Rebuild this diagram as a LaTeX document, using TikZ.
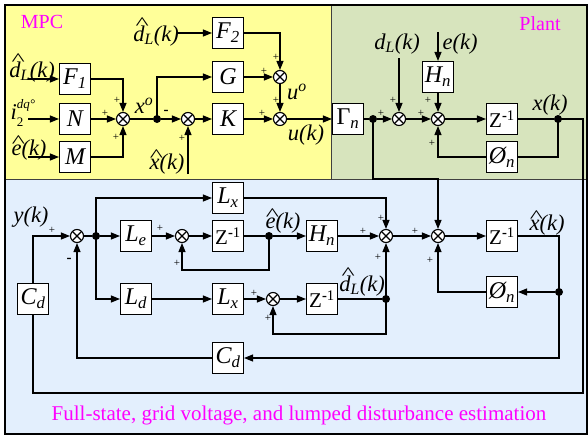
\documentclass[tikz,border=0pt]{standalone}
\usepackage{fontspec}
\setmainfont{Liberation Serif}
\usetikzlibrary{arrows.meta,calc}

\definecolor{mpcY}{RGB}{255,255,153}
\definecolor{plantG}{RGB}{215,228,189}
\definecolor{estB}{RGB}{227,239,253}
\definecolor{titleM}{RGB}{255,0,255}

% letter with a wide hat: #1 letter, #2 horizontal shift, #3 raise
\newcommand\hatl[3]{\rlap{\hspace{#2}\raisebox{#3}{\upshape\scalebox{1.25}[0.8]{\textasciicircum}}}#1}
\newcommand\dhat{\hatl{d}{0.1em}{0.55em}}
\newcommand\ehat{\hatl{e}{0.02em}{0.36em}}
\newcommand\xhat{\hatl{x}{0.02em}{0.36em}}
\newcommand\zinv{{\upshape Z\textsuperscript{\textbf{-}1}}}

\tikzset{
 blk/.style={draw, fill=white, line width=1.1pt, minimum width=31pt, minimum height=31pt, inner sep=0pt, font=\fontsize{24}{24}\selectfont\itshape},
 zblk/.style={blk, font=\fontsize{21}{21}\selectfont},
 sumn/.style={circle, draw, fill=white, line width=1.1pt, minimum size=13pt, inner sep=0pt,
   path picture={\draw[line width=1.1pt] (path picture bounding box.north west)--(path picture bounding box.south east) (path picture bounding box.north east)--(path picture bounding box.south west);}},
 dotn/.style={circle, fill=black, minimum size=8pt, inner sep=0pt},
 lab/.style={inner sep=0pt, font=\fontsize{22.5}{22.5}\selectfont\itshape},
 sg/.style={inner sep=0pt, font=\fontsize{11}{11}\selectfont},
 mn/.style={inner sep=0pt, font=\fontsize{15}{15}\selectfont\bfseries},
 ttl/.style={inner sep=0pt, text=titleM, font=\fontsize{20}{20}\selectfont},
 wire/.style={line width=1.2pt},
 arr/.style={wire, -{Triangle[length=9pt,width=7pt]}},
}

\begin{document}
\begin{tikzpicture}[x=1pt,y=-1pt]
\useasboundingbox (0,0) rectangle (588,436);
\fill[white] (0,0) rectangle (588,436);
\fill[mpcY] (5,5) rectangle (331,179);
\fill[plantG] (331,5) rectangle (587,179);
\fill[estB] (5,179) rectangle (587,434);
\draw[line width=0.8pt, black!75] (331,5) -- (331,179) (5,179) -- (587,179);
\draw[line width=1.2pt] (5,5) rectangle (587,434);

% titles
\node[ttl] (tmpc) at (42,22) {MPC};
\node[ttl] (tplant) at (540,24) {Plant};
\node[ttl, font=\fontsize{21}{21}\selectfont] (test) at (299,415) {Full-state, grid voltage, and lumped disturbance estimation};

% MPC blocks
\node[blk] (F1) at (75,79) {F\textsubscript{1}};
\node[blk] (N) at (75,119) {N};
\node[blk] (M) at (75,157) {M};
\node[sumn] (s1) at (123,119) {};
\node[dotn] (d0) at (157,119) {};
\node[sumn] (s2) at (188,119) {};
\node[blk] (F2) at (228,33) {F\textsubscript{2}};
\node[blk] (G) at (228,77) {G};
\node[blk] (K) at (228,119) {K};
\node[sumn] (s3) at (280,77) {};
\node[sumn] (s4) at (280,119) {};
\node[blk] (Gam) at (348,119) {{\upshape Γ}\textsubscript{n}};

% plant blocks
\node[dotn] (d1) at (373,119) {};
\node[sumn] (s5) at (399,119) {};
\node[sumn] (s6) at (438,119) {};
\node[blk] (Hn1) at (438,77) {H\textsubscript{n}};
\node[zblk] (Z1) at (502,119) {\zinv};
\node[blk] (P1) at (502,157) {Ø\textsubscript{n}};
\node[dotn] (xd) at (558,119) {};

% estimator blocks
\node[blk] (Cd1) at (33,299) {C\textsubscript{d}};
\node[sumn] (s10) at (77,236) {};
\node[dotn] (d2) at (96,236) {};
\node[blk] (Le) at (136,236) {L\textsubscript{e}};
\node[blk] (Ld) at (136,299) {L\textsubscript{d}};
\node[sumn] (s11) at (182,236) {};
\node[blk] (Lx1) at (228,198) {L\textsubscript{x}};
\node[zblk] (Z2) at (228,236) {\zinv};
\node[dotn] (ed) at (269,236) {};
\node[blk] (Hn2) at (322,236) {H\textsubscript{n}};
\node[sumn] (s7) at (386,236) {};
\node[sumn] (s8) at (438,236) {};
\node[zblk] (Z3) at (502,236) {\zinv};
\node[blk] (P2) at (502,292) {Ø\textsubscript{n}};
\node[dotn] (xhd) at (559,292) {};
\node[blk] (Lx2) at (228,299) {L\textsubscript{x}};
\node[sumn] (s9) at (273,299) {};
\node[zblk] (Z4) at (322,299) {\zinv};
\node[dotn] (dd) at (386,299) {};
\node[blk] (Cd2) at (228,358) {C\textsubscript{d}};

% free ends
\coordinate (inF) at (28,79);
\coordinate (inN) at (28,119);
\coordinate (inM) at (28,157);
\coordinate (inxh) at (188,174);
\coordinate (indl2) at (178,33);
\coordinate (indl) at (399,58);
\coordinate (ine) at (438,32);
\coordinate (xr) at (583,119);
\coordinate (xb) at (583,393);
\coordinate (cb) at (33,393);
\coordinate (gd) at (373,179);
\coordinate (eb) at (269,270);
\coordinate (db) at (386,334);
\coordinate (xhb) at (559,358);

% labels
\node[lab] (ldl) at (32,68) {\dhat\textsubscript{L}(k)};
\node[lab] (li2) at (17,113) {i\makebox[0pt][l]{\raisebox{0.5em}{\fontsize{13}{13}\selectfont dq°}}\raisebox{-0.3em}{\fontsize{13}{13}\selectfont\upshape 2}\hspace{0.9em}};
\node[lab] (le) at (29,148) {\ehat(k)};
\node[lab] (lxh) at (167,162) {\xhat(k)};
\node[lab] (ldl2) at (156,32) {\dhat\textsubscript{L}(k)};
\node[lab] (lx0) at (144,106) {x\textsuperscript{o}};
\node[lab] (lu0) at (297,92) {u\textsuperscript{o}};
\node[lab] (lu) at (306,135) {u(k)};
\node[lab] (ldL) at (397,44) {d\textsubscript{L}(k)};
\node[lab] (lek) at (460,44) {e(k)};
\node[lab] (lx) at (550,105) {x(k)};
\node[lab] (ly) at (31,217) {y(k)};
\node[lab] (leh) at (283,221) {\ehat(k)};
\node[lab] (ldh) at (362,282) {\dhat\textsubscript{L}(k)};
\node[lab] (lxhh) at (547,223) {\xhat(k)};

% signs
\node[sg] at (117,100) {+};
\node[sg] at (105,113) {+};
\node[sg] at (116,137) {+};
\node[mn] at (166,112) {-};
\node[sg] at (182,138) {+};
\node[sg] at (276,57) {+};
\node[sg] at (264,71) {+};
\node[sg] at (276,100) {+};
\node[sg] at (262,113) {+};
\node[sg] at (381,113) {+};
\node[sg] at (393,100) {+};
\node[sg] at (421,113) {+};
\node[sg] at (428,100) {+};
\node[sg] at (432,143) {+};
\node[sg] at (52,230) {+};
\node[mn] at (69,260) {-};
\node[sg] at (160,228) {+};
\node[sg] at (177,263) {+};
\node[sg] at (381,218) {+};
\node[sg] at (363,231) {+};
\node[sg] at (378,257) {+};
\node[sg] at (415,231) {+};
\node[sg] at (430,260) {+};
\node[sg] at (254,293) {+};
\node[sg] at (268,318) {+};

% MPC wiring
\draw[arr] (inF) -- (F1);
\draw[arr] (inN) -- (N);
\draw[arr] (inM) -- (M);
\draw[arr] (F1.east) -| (s1.north);
\draw[arr] (N) -- (s1);
\draw[arr] (M.east) -| (s1.south);
\draw[wire] (s1) -- (d0);
\draw[arr] (d0) -- (s2);
\draw[arr] (d0.center) |- (G.west);
\draw[arr] (inxh) -- (s2.south);
\draw[arr] (s2) -- (K);
\draw[arr] (indl2) -- (F2);
\draw[arr] (F2.east) -| (s3.north);
\draw[arr] (G) -- (s3);
\draw[arr] (s3) -- (s4);
\draw[arr] (K) -- (s4);
\draw[arr] (s4) -- (Gam);

% plant wiring
\draw[wire] (Gam) -- (d1);
\draw[arr] (d1) -- (s5);
\draw[arr] (indl) -- (s5.north);
\draw[arr] (ine) -- (Hn1.north);
\draw[arr] (Hn1) -- (s6);
\draw[arr] (s5) -- (s6);
\draw[arr] (s6) -- (Z1);
\draw[wire] (Z1) -- (xd);
\draw[wire] (xd.center) |- (P1.east);
\draw[arr] (P1.west) -| (s6.south);
\draw[wire] (xd.center) -- (xr) -- (xb) -- (cb) -- (Cd1.south);
\draw[arr] (Cd1.north) |- (s10.west);
\draw[arr] (d1.center) -- (gd) -| (s8.north);

% estimator wiring
\draw[wire] (s10) -- (d2);
\draw[arr] (d2) -- (Le);
\draw[arr] (d2.center) |- (Lx1.west);
\draw[arr] (d2.center) |- (Ld.west);
\draw[arr] (Le) -- (s11);
\draw[arr] (s11) -- (Z2);
\draw[wire] (Z2) -- (ed);
\draw[arr] (ed) -- (Hn2);
\draw[arr] (ed.center) -- (eb) -| (s11.south);
\draw[arr] (Lx1.east) -| (s7.north);
\draw[arr] (Hn2) -- (s7);
\draw[arr] (dd.center) -- (s7.south);
\draw[arr] (s7) -- (s8);
\draw[arr] (P2.west) -| (s8.south);
\draw[arr] (s8) -- (Z3);
\draw[wire] (Z3.east) -| (xhd.center);
\draw[arr] (xhd) -- (P2);
\draw[arr] (xhd.center) -- (xhb) -- (Cd2.east);
\draw[arr] (Cd2.west) -| (s10.south);
\draw[arr] (Ld) -- (Lx2);
\draw[arr] (Lx2) -- (s9);
\draw[arr] (s9) -- (Z4);
\draw[wire] (Z4) -- (dd);
\draw[arr] (dd.center) -- (db) -| (s9.south);
\end{tikzpicture}
\end{document}
